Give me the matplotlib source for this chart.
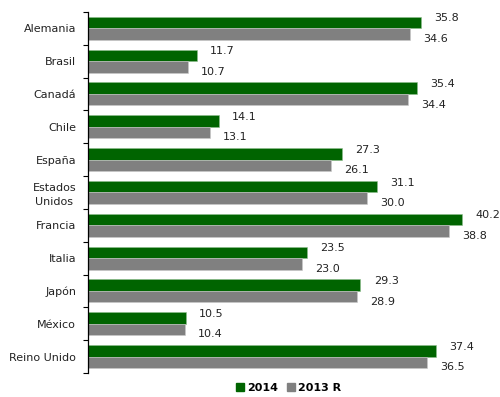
import numpy as np
import matplotlib.pyplot as plt
from matplotlib.patches import Patch
from matplotlib.ticker import FixedLocator

countries = ['Alemania', 'Brasil', 'Canadá', 'Chile', 'España', 'Estados\nUnidos',
             'Francia', 'Italia', 'Japón', 'México', 'Reino Unido']
v2014 = [35.8, 11.7, 35.4, 14.1, 27.3, 31.1, 40.2, 23.5, 29.3, 10.5, 37.4]
v2013 = [34.6, 10.7, 34.4, 13.1, 26.1, 30.0, 38.8, 23.0, 28.9, 10.4, 36.5]

green = '#006400'
gray = '#808080'

fig = plt.figure(figsize=(5, 3.97), dpi=100)
ax = fig.add_axes([0.176, 0.0605, 0.824, 0.9095])

y = np.arange(len(countries))
h = 0.35
ax.barh(y - h/2, v2014, height=h, color=green, edgecolor='#8fbf8f', linewidth=0.4)
ax.barh(y + h/2, v2013, height=h, color=gray, edgecolor='#c8c8c8', linewidth=0.4)

# value labels
for yi, a, b in zip(y, v2014, v2013):
    ax.annotate(f'{a:.1f}', (a, yi - h/2), xytext=(9.5, 3), textcoords='offset points',
                ha='left', va='center', fontsize=8, color='#222222')
    ax.annotate(f'{b:.1f}', (b, yi + h/2), xytext=(9.5, -3.5), textcoords='offset points',
                ha='left', va='center', fontsize=8, color='#222222')

ax.set_ylim(len(countries) - 0.5, -0.5)
ax.set_xlim(0, 44.3)
ax.set_yticks(y)
ax.set_yticklabels(countries, fontsize=8, color='#222222', ha='right',
                   multialignment='center', linespacing=1.5)
ax.tick_params(axis='y', which='major', length=0, pad=8.5)
ax.yaxis.set_minor_locator(FixedLocator(np.arange(-0.5, len(countries), 1)))
ax.tick_params(axis='y', which='minor', length=3.6, width=0.8, direction='out')
ax.set_xticks([])
for s in ['top', 'right', 'bottom']:
    ax.spines[s].set_visible(False)
ax.spines['left'].set_linewidth(0.9)

handles = [Patch(color=green, label='2014'), Patch(color=gray, label='2013 R')]
fig.legend(handles=handles, loc='center', bbox_to_anchor=(0.577, 0.022), ncol=2,
           frameon=False, prop={'weight': 'bold', 'size': 8},
           handlelength=0.7, handleheight=0.7, handletextpad=0.3, columnspacing=0.8)

fig.savefig('out.png', dpi=100)
